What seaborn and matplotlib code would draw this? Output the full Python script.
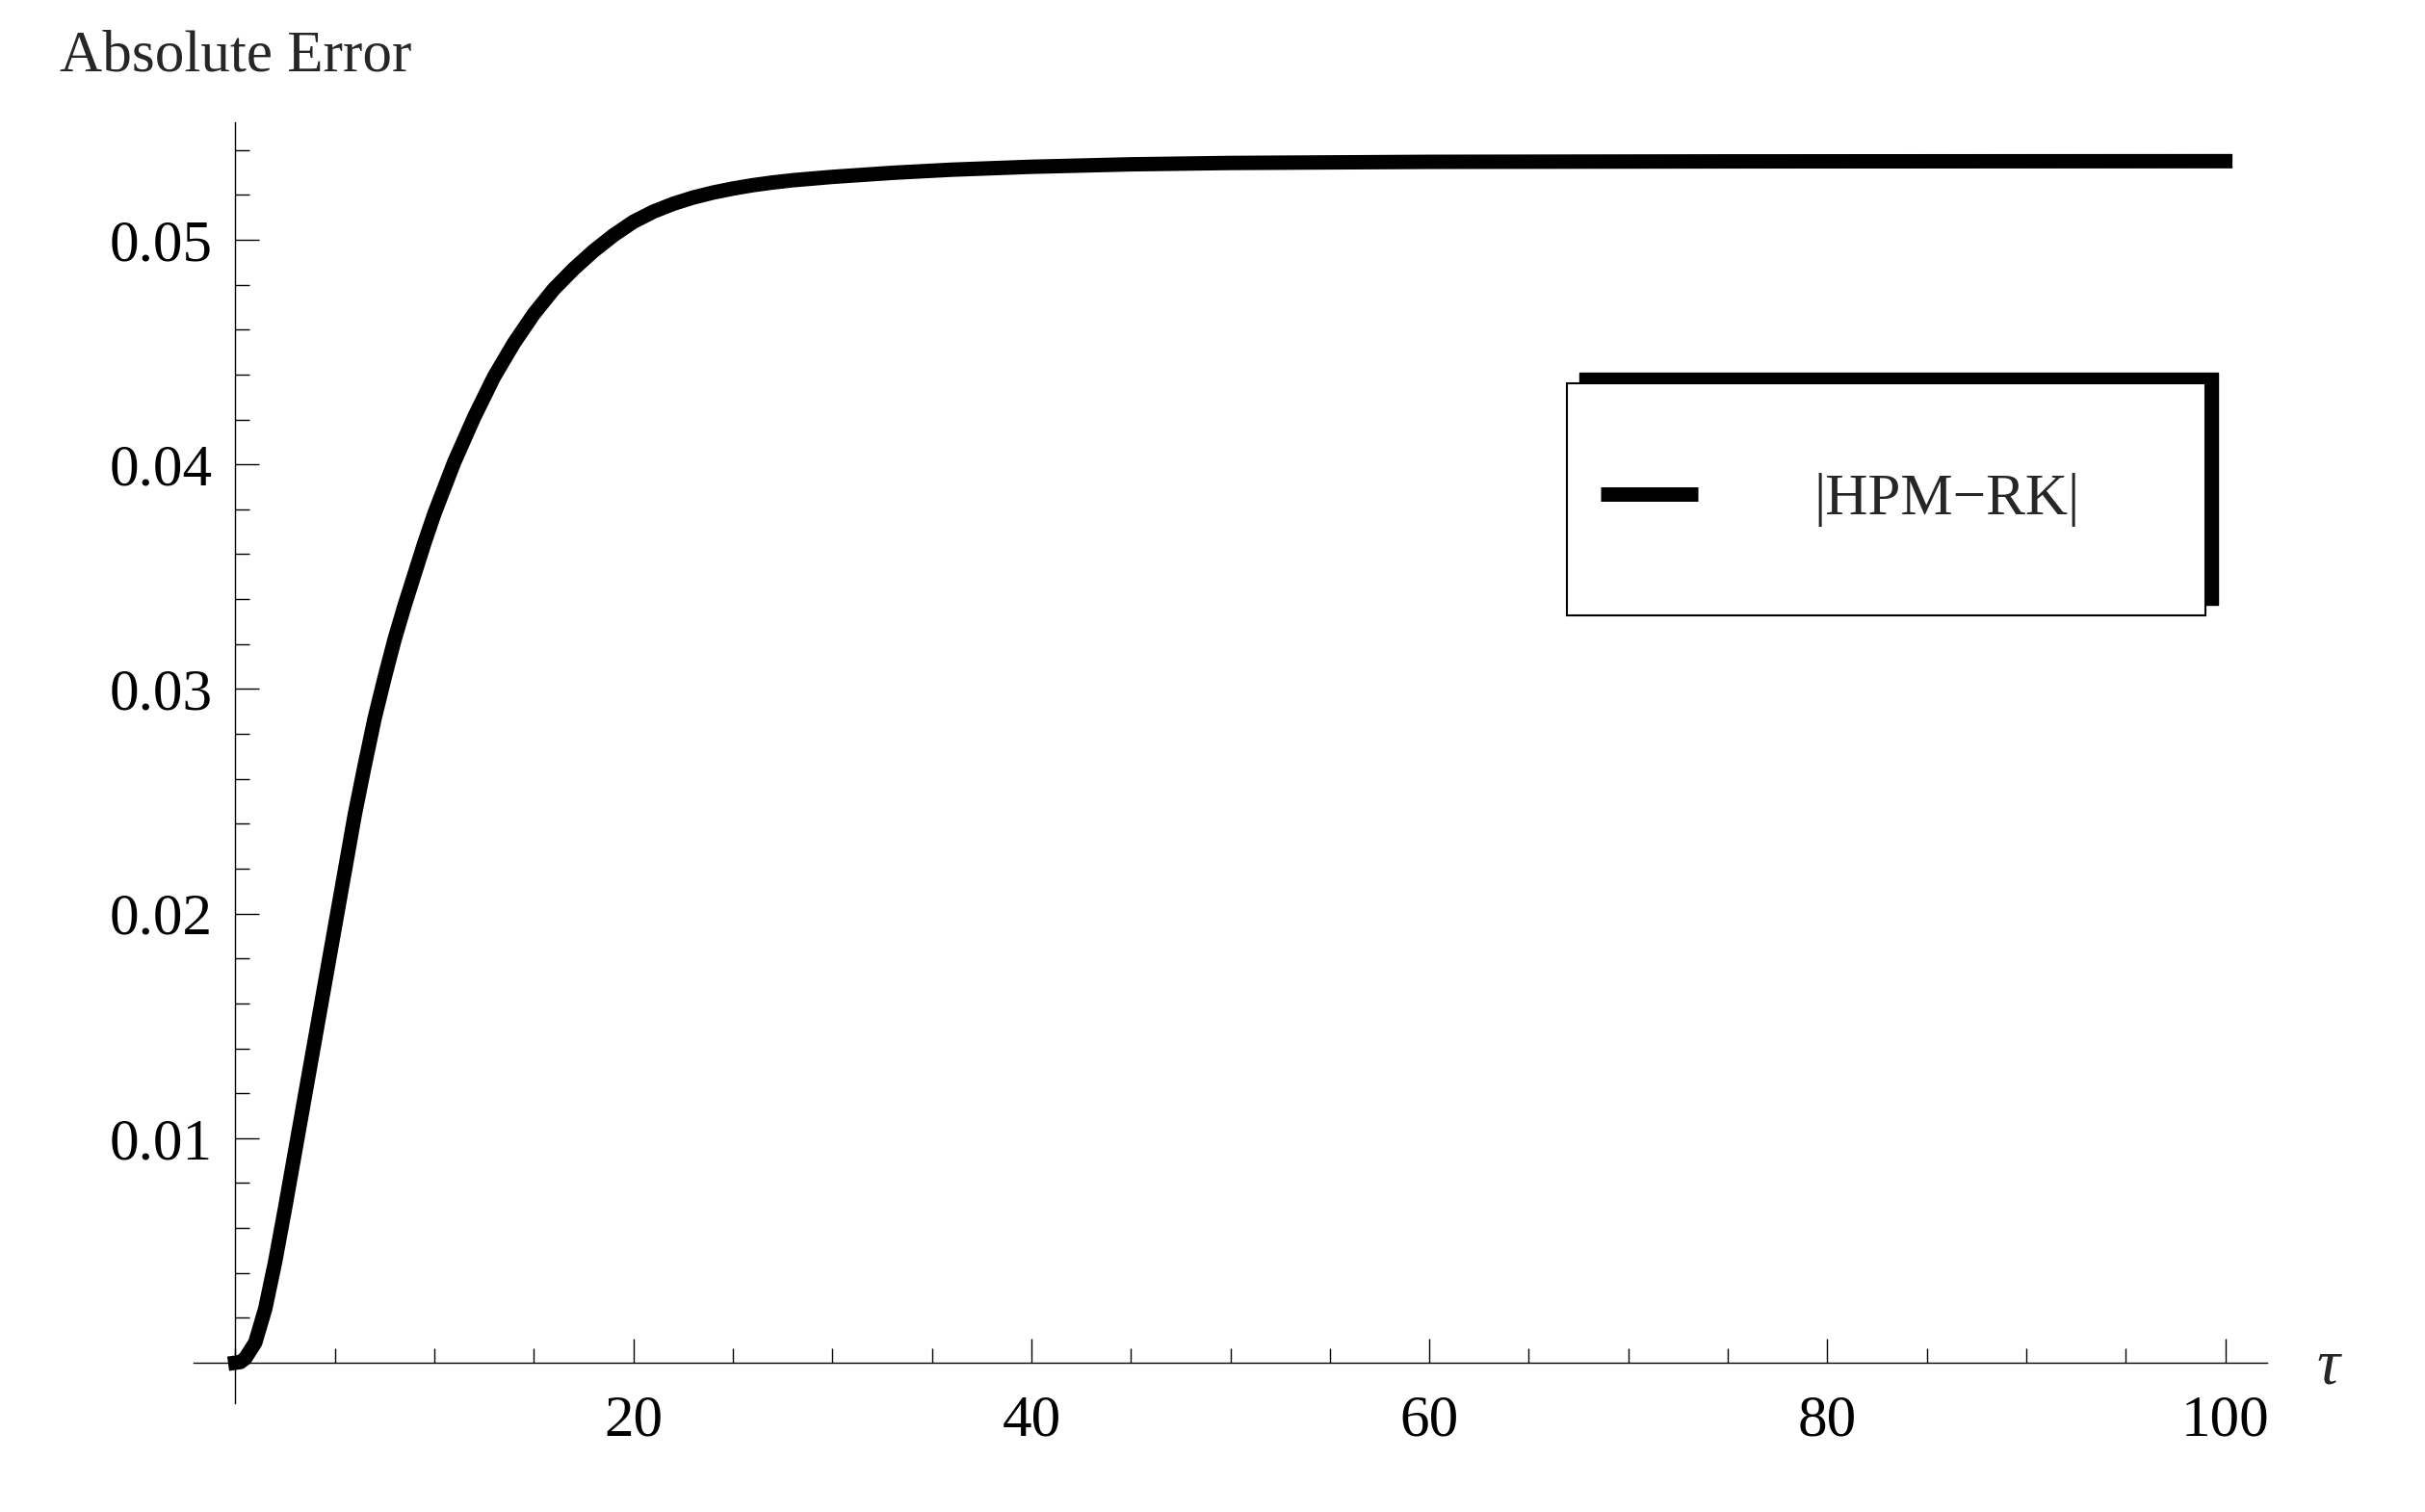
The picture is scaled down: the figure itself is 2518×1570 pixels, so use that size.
import matplotlib
matplotlib.use("Agg")
import matplotlib.pyplot as plt
from matplotlib.patches import Rectangle
from matplotlib.ticker import MultipleLocator, FixedLocator, FuncFormatter
import seaborn as sns

# -----------------------------
# DATA
# -----------------------------
tau = [0, 0.25, 0.5, 1.0, 1.5, 2.0, 2.5, 3.0, 3.5, 4.0, 4.5, 5.0, 5.5, 6.0,
       6.5, 7.0, 7.5, 8.0, 8.5, 9.0, 9.5, 10, 11, 12, 13, 14, 15, 16, 17,
       18, 19, 20, 21, 22, 23, 24, 25, 26, 27, 28, 30, 33, 36, 40, 45, 50,
       60, 75, 100]
abs_error = [0.0, 0.00003, 0.0002, 0.0009, 0.0024, 0.0045, 0.0069, 0.0094,
             0.0119, 0.0144, 0.0169, 0.0194, 0.0219, 0.0244, 0.0266, 0.0287,
             0.0305, 0.0322, 0.0337, 0.0351, 0.0365, 0.0378, 0.0401, 0.0421,
             0.0439, 0.0454, 0.0467, 0.0478, 0.0487, 0.0495, 0.0502, 0.0508,
             0.05125, 0.0516, 0.05188, 0.0521, 0.05228, 0.05243, 0.05255,
             0.05265, 0.0528, 0.05298, 0.05312, 0.05325, 0.05336, 0.05342,
             0.05347, 0.05349, 0.0535]
series_label = "|HPM\u2212RK|"
x_major = [20, 40, 60, 80, 100]
y_major = [0.01, 0.02, 0.03, 0.04, 0.05]

# -----------------------------
# Style
# -----------------------------
sns.set_theme(style="white")
plt.rcParams["font.family"] = ["Liberation Serif", "DejaVu Serif"]
FS = 44
LW = 10.8

W, H = 2518, 1570
fig = plt.figure(figsize=(W / 100, H / 100), dpi=100)
ax = fig.add_axes([201 / W, 113 / H, 2153 / W, 1330 / H])

sns.lineplot(x=tau, y=abs_error, ax=ax, color="black", label=series_label, zorder=4)
for ln in ax.lines:
    ln.set_linewidth(LW)
    ln.set_solid_capstyle("projecting")
    ln.set_solid_joinstyle("round")

ax.set_xlim(-2.1, 102.1)
ax.set_ylim(-0.0018, 0.05523)

# axes through the origin, Mathematica style
for side in ["top", "right"]:
    ax.spines[side].set_visible(False)
for side in ["left", "bottom"]:
    ax.spines[side].set_position(("data", 0))
    ax.spines[side].set_linewidth(1.0)
    ax.spines[side].set_color("black")

ax.xaxis.set_major_locator(FixedLocator(x_major))
ax.xaxis.set_minor_locator(MultipleLocator(5))
ax.yaxis.set_major_locator(FixedLocator(y_major))
ax.yaxis.set_minor_locator(MultipleLocator(0.002))
ax.yaxis.set_major_formatter(FuncFormatter(lambda v, p: f"{v:.2f}"))
ax.xaxis.set_major_formatter(FuncFormatter(lambda v, p: f"{v:.0f}"))

ax.tick_params(which="both", bottom=True, left=True, top=False, right=False)
ax.tick_params(which="major", direction="in", length=18, width=1.0, colors="black", labelsize=FS)
ax.tick_params(which="minor", direction="in", length=10.8, width=1.0, colors="black")
ax.tick_params(axis="x", which="major", pad=24)
ax.tick_params(axis="y", which="major", pad=17)
ax.grid(False)
ax.set_xlabel("")
ax.set_ylabel("")

# axis captions
fig.text(62 / W, 1 - 73 / H, "Absolute Error", fontsize=FS, ha="left", va="baseline")
fig.text(2417 / W, 1 - 1420 / H, "\u03c4", fontsize=FS + 4, style="italic", ha="center", va="center")

# legend frame with offset shadow
bx, by, bw, bh = 1627, 639, 663, 241
ax.add_patch(Rectangle(((bx + 13) / W, 1 - (by - 11) / H), bw / W, bh / H,
                       transform=fig.transFigure, facecolor="black", edgecolor="black",
                       clip_on=False, zorder=3))
ax.add_patch(Rectangle((bx / W, 1 - by / H), bw / W, bh / H,
                       transform=fig.transFigure, facecolor="white", edgecolor="black",
                       linewidth=1.5, clip_on=False, zorder=3.5))

handles, labels = ax.get_legend_handles_labels()
leg = ax.legend(handles, labels, loc="center left",
                bbox_to_anchor=(1662 / W, 1 - 519 / H), bbox_transform=fig.transFigure,
                frameon=False, borderpad=0, borderaxespad=0, fontsize=FS,
                handlelength=1.65, handletextpad=1.98)
leg.set_zorder(6)
for ln in leg.get_lines():
    ln.set_linewidth(LW)
    ln.set_solid_capstyle("butt")

fig.savefig("out.png", dpi=100)
